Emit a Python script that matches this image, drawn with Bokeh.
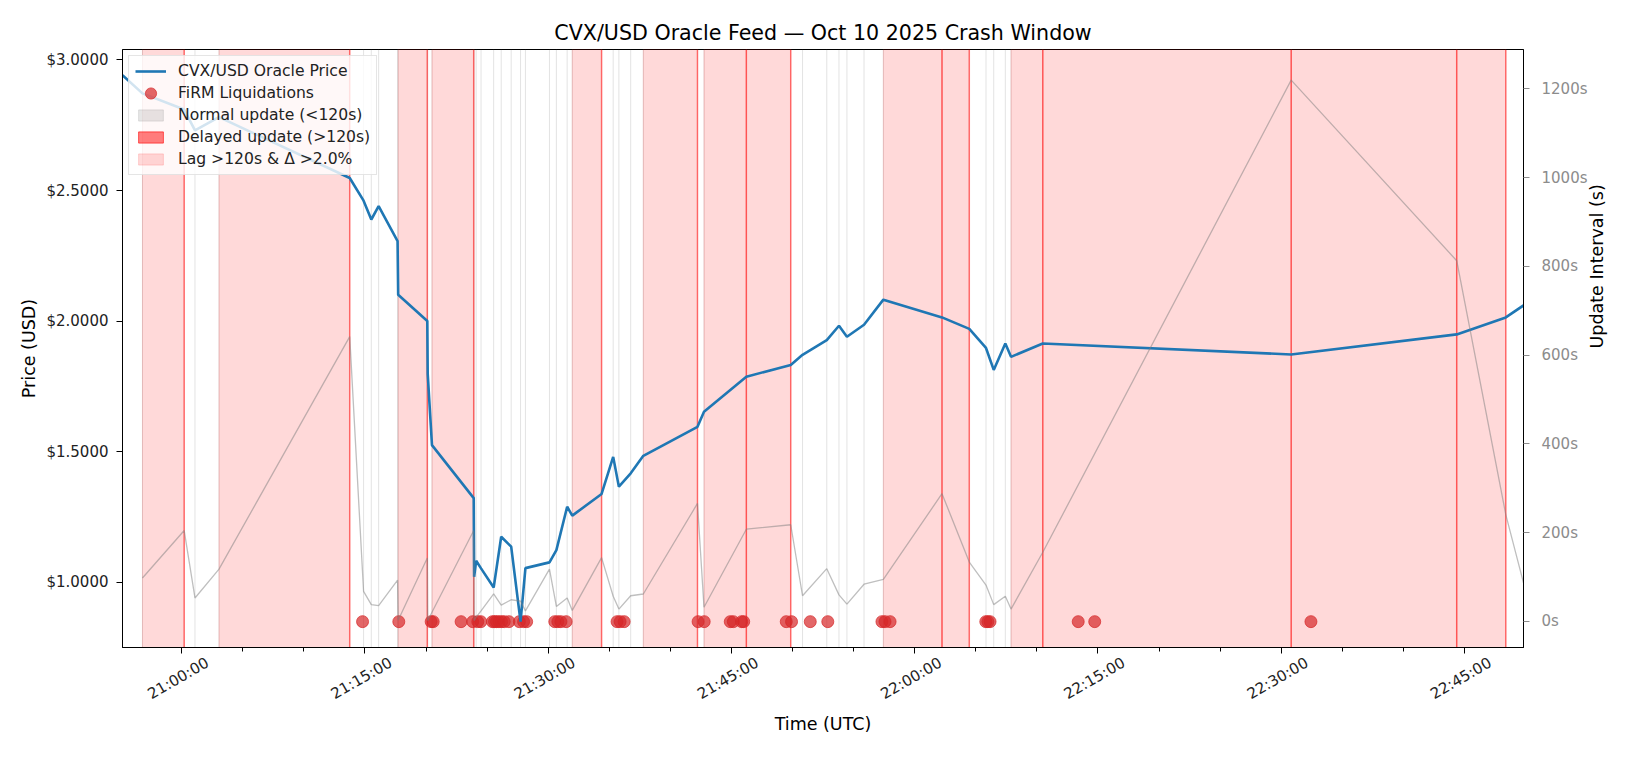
import math
import numpy as np
import pandas as pd
from bokeh.plotting import figure
from bokeh.models import (ColumnDataSource, Range1d, LinearAxis, FixedTicker, CustomJSTickFormatter,
                          PrintfTickFormatter, Legend, LegendItem)
from bokeh.embed import file_html
from bokeh.resources import INLINE

# ---------------- data ----------------
DATE = "2025-10-10"

update_times = [
    "20:55:09", "20:56:47", "21:00:12", "21:01:05", "21:03:03", "21:13:45",
    "21:14:53", "21:15:31", "21:16:07", "21:17:40", "21:17:43", "21:20:06",
    "21:20:08", "21:20:29", "21:23:54", "21:23:56", "21:24:06", "21:24:30",
    "21:25:32", "21:26:09", "21:26:58", "21:27:44", "21:28:08", "21:30:06",
    "21:30:40", "21:31:33", "21:31:58", "21:34:22", "21:35:19", "21:35:47",
    "21:36:45", "21:37:47", "21:42:13", "21:42:45", "21:46:13", "21:49:51",
    "21:50:49", "21:52:48", "21:53:48", "21:54:27", "21:55:51", "21:57:26",
    "22:02:14", "22:04:28", "22:05:50", "22:06:28", "22:07:25", "22:07:53",
    "22:10:29", "22:30:49", "22:44:22", "22:48:23", "22:49:50",
]
update_prices = [
    2.942, 2.872, 2.810, 2.730, 2.781, 2.548,
    2.461, 2.389, 2.440, 2.306, 2.101, 2.000,
    1.798, 1.525, 1.322, 1.021, 1.082, 1.053,
    0.980, 1.174, 1.136, 0.849, 1.054, 1.076,
    1.123, 1.289, 1.255, 1.338, 1.480, 1.366,
    1.417, 1.484, 1.595, 1.653, 1.787, 1.832,
    1.871, 1.927, 1.982, 1.940, 1.986, 2.082,
    2.014, 1.970, 1.897, 1.813, 1.914, 1.863,
    1.914, 1.872, 1.949, 2.014, 2.060,
]
liquidation_times = [
    "21:14:48", "21:17:46", "21:20:25", "21:20:35", "21:22:52", "21:23:49",
    "21:24:14", "21:24:29", "21:25:26", "21:25:36", "21:25:46", "21:25:58",
    "21:26:11", "21:26:24", "21:26:47", "21:27:38", "21:27:59", "21:28:14",
    "21:30:32", "21:30:47", "21:31:02", "21:31:28", "21:35:38", "21:35:53",
    "21:36:13", "21:42:16", "21:42:46", "21:44:54", "21:45:09", "21:45:50",
    "21:46:00", "21:49:29", "21:49:55", "21:51:27", "21:52:53", "21:57:19",
    "21:57:34", "21:57:59", "22:05:49", "22:05:59", "22:06:10", "22:13:23",
    "22:14:44", "22:32:26",
]
time_tick_labels = ["21:00:00", "21:15:00", "21:30:00", "21:45:00",
                    "22:00:00", "22:15:00", "22:30:00", "22:45:00"]
price_ticks = [1.0, 1.5, 2.0, 2.5, 3.0]
interval_ticks = [0, 200, 400, 600, 800, 1000, 1200]

DELAY_S = 120
MOVE_PCT = 0.02

# ---------------- derived series ----------------
def ts(lst):
    return pd.to_datetime([f"{DATE} {s}" for s in lst])

t = ts(update_times)
prices = np.array(update_prices, dtype=float)
interval = np.r_[np.nan, np.diff(t.values).astype("timedelta64[s]").astype(float)]
change = np.r_[np.nan, np.abs(np.diff(prices)) / prices[:-1]]
valid = ~np.isnan(interval)
delayed = valid & (interval > DELAY_S)
normal = valid & (interval <= DELAY_S)
lag = delayed & (change > MOVE_PCT)

Y_LO, Y_HI = 0.750, 3.040
I_LO, I_HI = -58.6, 1289.0

x_start = t[0].to_pydatetime()
x_end = t[-1].to_pydatetime()

def ms(x):
    return pd.Timestamp(x).value / 1e6

major_ticks = [ms(f"{DATE} {s}") for s in time_tick_labels]
minor_ticks = [ms(x) for x in pd.date_range(f"{DATE} 20:55:00", f"{DATE} 22:50:00", freq="5min")]

FONT = "DejaVu Sans"
W, H = 1628, 760
BL, BR, BT, BB = 122, 105, 49, 113

p = figure(width=W, height=H, x_axis_type="datetime",
           x_range=Range1d(x_start, x_end), y_range=Range1d(Y_LO, Y_HI),
           output_backend="svg", toolbar_location=None,
           min_border_left=BL, min_border_right=BR, min_border_top=BT, min_border_bottom=BB,
           background_fill_color="white", border_fill_color="white")
p.extra_y_ranges = {"interval": Range1d(I_LO, I_HI)}

p.title.text = "CVX/USD Oracle Feed \u2014 Oct 10 2025 Crash Window"
p.title.text_font = FONT
p.title.text_font_size = "20.6px"
p.title.text_font_style = "normal"
p.title.align = "center"
p.title.text_color = "black"

p.xgrid.visible = False
p.ygrid.visible = False
p.outline_line_color = "black"
p.outline_line_width = 1

# lag spans
span_src = ColumnDataSource(dict(left=t[:-1][lag[1:]], right=t[lag],
                                 bottom=[Y_LO] * int(lag.sum()), top=[Y_HI] * int(lag.sum())))
r_lag = p.quad(left="left", right="right", bottom="bottom", top="top", source=span_src,
               fill_color="red", fill_alpha=0.15, line_color="red", line_alpha=0.15, line_width=1)

# normal update lines
n = int(normal.sum())
p.segment(x0=t[normal], y0=[Y_LO] * n, x1=t[normal], y1=[Y_HI] * n,
          line_color="gray", line_alpha=0.22, line_width=1)

# delayed update lines
d = int(delayed.sum())
p.segment(x0=t[delayed], y0=[Y_LO] * d, x1=t[delayed], y1=[Y_HI] * d,
          line_color="red", line_alpha=0.5, line_width=1.5)

# legend-only glyphs (placed outside the visible range)
off = [Y_HI + 1.0]
r_norm_leg = p.quad(left=[x_start], right=[x_start], bottom=off, top=off, fill_color="gray",
                    fill_alpha=0.2, line_color="gray", line_alpha=0.2)
r_del_leg = p.quad(left=[x_start], right=[x_start], bottom=off, top=off, fill_color="red",
                   fill_alpha=0.5, line_color="red", line_alpha=0.6, line_width=1)
r_liq_leg = p.ellipse(x=[x_start], y=off, width=12, height=12, width_units="screen",
                      height_units="screen", fill_color="#d62728", fill_alpha=0.7,
                      line_color="#d62728", line_alpha=0.7)

# liquidations at the lowest oracle price level
liq_t = ts(liquidation_times)
liq_level = prices.min()
p.scatter(x=liq_t, y=[liq_level] * len(liq_t), size=12, marker="circle",
          fill_color="#d62728", fill_alpha=0.7, line_color="#d62728", line_alpha=0.7)

# price line
r_price = p.line(x=t, y=prices, line_color="#1f77b4", line_width=2.6)

# interval line (secondary axis)
p.line(x=t[valid], y=interval[valid], y_range_name="interval",
       line_color="gray", line_alpha=0.5, line_width=1.3)

# ---- axes ----
xa = p.xaxis[0]
xa.ticker = FixedTicker(ticks=major_ticks, minor_ticks=minor_ticks)
xa.major_label_text_color = None
xa.major_label_standoff = 0

# time labels: rotated 30 degrees and centred under the ticks (as matplotlib does)
frame_w = W - BL - BR
ms_per_px = (ms(x_end) - ms(x_start)) / frame_w
LABEL_SHIFT_PX = 25.7
xb = LinearAxis(axis_label="Time (UTC)")
xb.ticker = FixedTicker(ticks=[m + LABEL_SHIFT_PX * ms_per_px for m in major_ticks], minor_ticks=[])
xb.formatter = CustomJSTickFormatter(args=dict(labels=time_tick_labels), code="return labels[index];")
xb.major_label_orientation = math.pi / 6
xb.axis_line_color = None
xb.major_tick_line_color = None
xb.minor_tick_line_color = None
xb.major_tick_out = 0
xb.major_label_standoff = 8
p.add_layout(xb, "below")

ya = p.yaxis[0]
ya.ticker = FixedTicker(ticks=price_ticks)
ya.formatter = PrintfTickFormatter(format="$%.4f")
ya.axis_label = "Price (USD)"

ra = LinearAxis(y_range_name="interval", axis_label="Update Interval (s)")
ra.ticker = FixedTicker(ticks=interval_ticks)
ra.formatter = PrintfTickFormatter(format="%ds")
p.add_layout(ra, "right")

for ax in (xa, xb, ya, ra):
    ax.major_label_text_font = FONT
    ax.major_label_text_font_size = "15px"
    ax.axis_label_text_font = FONT
    ax.axis_label_text_font_size = "17.5px"
    ax.axis_label_text_font_style = "normal"
    ax.axis_label_text_color = "black"
for ax in (xa, ya, ra):
    ax.axis_line_color = "black"
    ax.major_tick_line_color = "black"
    ax.major_tick_out = 6
    ax.major_tick_in = 0
    ax.minor_tick_out = 4
    ax.minor_tick_in = 0
xb.major_label_text_color = "#222222"
xb.axis_label_standoff = 0
ya.major_label_text_color = "#222222"
ya.major_label_standoff = 8
ya.axis_label_standoff = 4
ya.minor_tick_line_color = None
ra.major_label_text_color = "#8c8c8c"
ra.major_label_standoff = 12
ra.axis_label_standoff = 7
ra.minor_tick_line_color = None
ra.major_tick_line_color = "#8c8c8c"
xa.minor_tick_line_color = "black"
try:
    ra.axis_label_orientation = math.pi / 2
except Exception:
    pass

legend = Legend(items=[
    LegendItem(label="CVX/USD Oracle Price", renderers=[r_price]),
    LegendItem(label="FiRM Liquidations", renderers=[r_liq_leg]),
    LegendItem(label="Normal update (<120s)", renderers=[r_norm_leg]),
    LegendItem(label="Delayed update (>120s)", renderers=[r_del_leg]),
    LegendItem(label="Lag >120s & \u0394 >2.0%", renderers=[r_lag]),
], location="top_left")
legend.margin = 6
legend.padding = 6
legend.spacing = 4
legend.glyph_width = 31
legend.glyph_height = 14
legend.label_height = 16
legend.label_standoff = 12
legend.label_text_font = FONT
legend.label_text_font_size = "15.6px"
legend.label_text_color = "#222222"
legend.background_fill_color = "white"
legend.background_fill_alpha = 0.8
legend.border_line_color = "#cccccc"
legend.border_line_width = 1
p.add_layout(legend)

open("out.html", "w").write(file_html(p, INLINE))
